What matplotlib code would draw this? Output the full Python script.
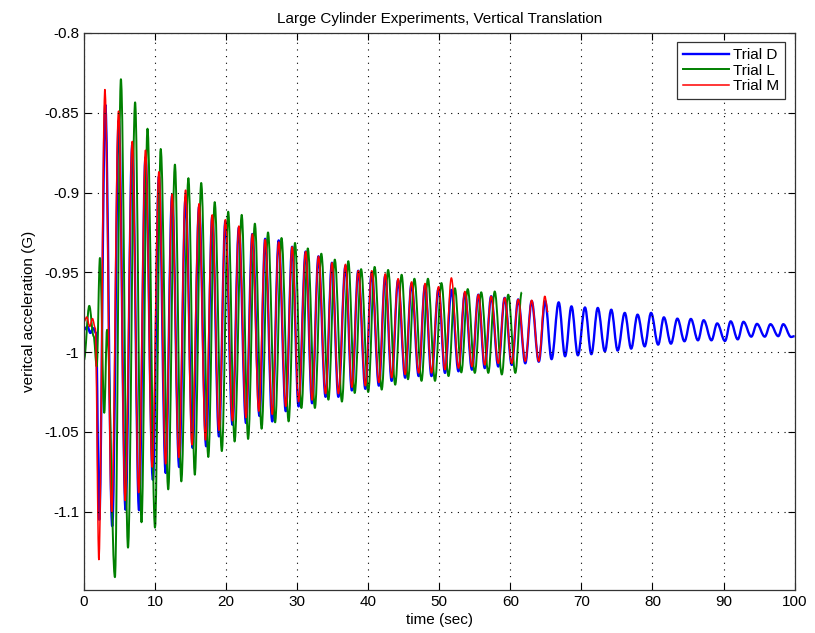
import matplotlib.pyplot as plt
from matplotlib.path import Path
from matplotlib.patches import PathPatch
from matplotlib.lines import Line2D

# turning points (time in sec, acceleration in G)
t_D = [0, 0.5, 0.9, 1.3, 1.7, 2.15, 3.0, 3.98, 4.9, 5.85, 6.8, 7.75, 8.66, 9.7, 10.55,
       11.5, 12.4, 13.4, 14.3, 15.3, 16.2, 17.2, 18.05, 19.0, 19.9, 20.9, 21.8, 22.8, 23.7,
       24.7, 25.5, 26.5, 27.4, 28.4, 29.3, 30.2, 31.2, 32.1, 33.0, 34.0, 34.9, 35.8, 36.8,
       37.7, 38.6, 39.6, 40.5, 41.5, 42.4, 43.3, 44.2, 45.2, 46.1, 47.1, 48.0, 48.9, 49.9,
       50.8, 51.7, 52.7, 53.6, 54.6, 55.5, 56.4, 57.3, 58.3, 59.2, 60.2, 61.1, 62.1, 63.0,
       64.0, 64.9, 65.8, 66.8, 67.7, 68.6, 69.5, 70.5, 71.4, 72.3, 73.3, 74.2, 75.1, 76.1,
       77.0, 77.9, 78.9, 79.8, 80.8, 81.6, 82.6, 83.5, 84.5, 85.4, 86.4, 87.2, 88.3, 89.1,
       90.2, 91.0, 92.0, 92.8, 93.9, 94.7, 95.8, 96.6, 97.7, 98.4, 99.5, 100]
a_D = [-0.986, -0.984, -0.988, -0.985, -0.988, -1.105, -0.845, -1.109, -0.855, -1.0987,
       -0.870, -1.099, -0.878, -1.080, -0.890, -1.0757, -0.902, -1.072, -0.903, -1.060,
       -0.909, -1.059, -0.915, -1.0528, -0.918, -1.0455, -0.922, -1.0444, -0.926, -1.040,
       -0.929, -1.0434, -0.930, -1.037, -0.934, -1.034, -0.937, -1.032, -0.940, -1.028,
       -0.944, -1.028, -0.946, -1.024, -0.949, -1.023, -0.950, -1.021, -0.952, -1.018,
       -0.955, -1.016, -0.957, -1.015, -0.958, -1.015, -0.960, -1.013, -0.961, -1.012,
       -0.963, -1.011, -0.964, -1.010, -0.965, -1.009, -0.966, -1.008, -0.967, -1.007,
       -0.968, -1.006, -0.968, -1.0044, -0.9688, -1.0026, -0.9713, -1.002, -0.972, -1.0013,
       -0.9723, -0.9995, -0.9734, -0.999, -0.9754, -0.9978, -0.9765, -0.9964, -0.9754,
       -0.9953, -0.9782, -0.9947, -0.979, -0.9932, -0.9792, -0.9926, -0.980, -0.9926,
       -0.982, -0.993, -0.9807, -0.992, -0.981, -0.9903, -0.9823, -0.9903, -0.9825, -0.990,
       -0.9825, -0.9905, -0.990]

t_L = [0, 0.75, 1.36, 1.8, 2.25, 2.86, 3.25, 4.36, 5.2, 6.2, 7.2, 8.1, 8.94, 10.0, 10.8,
       11.86, 12.8, 13.7, 14.7, 15.6, 16.5, 17.5, 18.4, 19.4, 20.3, 21.2, 22.2, 23.1, 24.05,
       25.0, 25.9, 26.9, 27.8, 28.8, 29.7, 30.6, 31.5, 32.5, 33.4, 34.4, 35.3, 36.3, 37.2,
       38.1, 39.0, 40.0, 40.9, 41.9, 42.8, 43.8, 44.7, 45.6, 46.5, 47.5, 48.4, 49.4, 50.3,
       51.3, 52.2, 53.1, 54.0, 55.0, 55.9, 56.9, 57.8, 58.8, 59.7, 60.7, 61.6]
a_L = [-1.005, -0.971, -0.990, -1.009, -0.941, -1.038, -0.986, -1.141, -0.829, -1.1225,
       -0.8435, -1.1066, -0.860, -1.110, -0.8727, -1.086, -0.8825, -1.081, -0.891, -1.0768,
       -0.894, -1.0657, -0.906, -1.062, -0.912, -1.056, -0.914, -1.0544, -0.9195, -1.048,
       -0.925, -1.044, -0.9285, -1.0434, -0.9316, -1.035, -0.935, -1.035, -0.9383, -1.0298,
       -0.942, -1.031, -0.943, -1.0256, -0.948, -1.025, -0.9466, -1.0235, -0.9485, -1.0204,
       -0.9515, -1.017, -0.954, -1.018, -0.954, -1.018, -0.9567, -1.015, -0.960, -1.0127,
       -0.9605, -1.013, -0.9625, -1.013, -0.962, -1.014, -0.964, -1.013, -0.9625]

t_M = [0, 0.4, 0.8, 1.2, 1.6, 2.1, 2.95, 3.9, 4.87, 5.8, 6.8, 7.7, 8.66, 9.6, 10.55, 11.5,
       12.4, 13.35, 14.3, 15.2, 16.2, 17.1, 18.05, 19.0, 19.9, 20.9, 21.8, 22.8, 23.7, 24.6,
       25.5, 26.5, 27.4, 28.4, 29.3, 30.2, 31.2, 32.1, 33.0, 34.0, 34.9, 35.8, 36.8, 37.7,
       38.6, 39.6, 40.5, 41.5, 42.4, 43.3, 44.2, 45.2, 46.1, 47.1, 48.0, 48.9, 49.9, 50.8,
       51.7, 52.7, 53.6, 54.6, 55.5, 56.4, 57.3, 58.3, 59.2, 60.2, 61.1, 62.1, 63.0, 64.0,
       64.85, 65.3]
a_M = [-0.981, -0.978, -0.984, -0.979, -0.985, -1.130, -0.8355, -1.100, -0.849, -1.093,
       -0.868, -1.088, -0.8735, -1.072, -0.887, -1.070, -0.901, -1.066, -0.8985, -1.058,
       -0.907, -1.055, -0.914, -1.049, -0.917, -1.043, -0.921, -1.041, -0.926, -1.037,
       -0.9295, -1.039, -0.931, -1.034, -0.934, -1.031, -0.937, -1.030, -0.940, -1.026,
       -0.944, -1.026, -0.945, -1.022, -0.949, -1.021, -0.949, -1.019, -0.951, -1.016,
       -0.954, -1.014, -0.956, -1.013, -0.957, -1.013, -0.959, -1.011, -0.9535, -1.010,
       -0.962, -1.009, -0.964, -1.008, -0.965, -1.007, -0.966, -1.007, -0.967, -1.0057,
       -0.9675, -1.0057, -0.965, -0.975]

x_ticks = [0, 10, 20, 30, 40, 50, 60, 70, 80, 90, 100]
y_ticks = [-0.8, -0.85, -0.9, -0.95, -1.0, -1.05, -1.1]
y_tick_labels = ['-0.8', '-0.85', '-0.9', '-0.95', '-1', '-1.05', '-1.1']


def smooth_path(t, a, h=0.36):
    # cubic bezier between turning points, flat tangent at each one
    verts = [(t[0], a[0])]
    codes = [Path.MOVETO]
    for i in range(1, len(t)):
        dt = t[i] - t[i - 1]
        verts += [(t[i - 1] + h * dt, a[i - 1]), (t[i] - h * dt, a[i]), (t[i], a[i])]
        codes += [Path.CURVE4] * 3
    return Path(verts, codes)


plt.rcParams['font.family'] = ['Liberation Sans', 'DejaVu Sans']
plt.rcParams['font.size'] = 11

fig = plt.figure(figsize=(8.15, 6.33), dpi=100)
ax = fig.add_axes([0.103, 0.068, 0.872, 0.88])

series = [(t_D, a_D, (0, 0, 1), 1.7, 'Trial D'),
          (t_L, a_L, (0, 0.5, 0), 1.4, 'Trial L'),
          (t_M, a_M, (1, 0, 0), 1.1, 'Trial M')]
handles = []
for t, a, c, w, name in series:
    ax.add_patch(PathPatch(smooth_path(t, a), fill=False, edgecolor=c, linewidth=w,
                           joinstyle='round'))
    handles.append(Line2D([], [], color=c, linewidth=w, label=name))

ax.set_xlim(0, 100)
ax.set_ylim(-1.149, -0.8)
ax.set_xticks(x_ticks)
ax.set_yticks(y_ticks)
ax.set_yticklabels(y_tick_labels)
ax.tick_params(direction='in', top=True, right=True, length=5, width=0.8)
ax.grid(True, color='k', linestyle=(0, (1, 5)), linewidth=0.8)
for s in ax.spines.values():
    s.set_color('#333333')
    s.set_linewidth(0.9)

ax.set_title('Large Cylinder Experiments, Vertical Translation', fontsize=11, pad=7)
ax.set_xlabel('time (sec)', labelpad=3)
ax.set_ylabel('veritcal acceleration (G)', labelpad=6)

leg = ax.legend(handles=handles, loc='upper right', fancybox=False, framealpha=1,
                edgecolor='#333333', handlelength=3, borderaxespad=0.6, borderpad=0.4,
                labelspacing=0.1, handletextpad=0.3)
leg.get_frame().set_linewidth(0.9)

fig.savefig('out.png', dpi=100)
